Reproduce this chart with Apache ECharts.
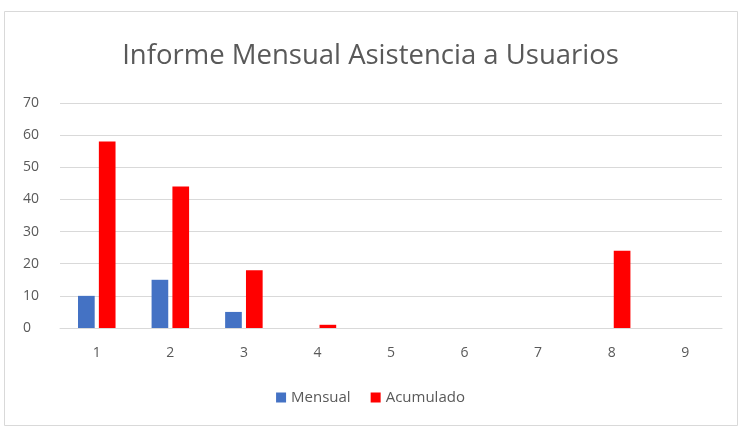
<!DOCTYPE html>
<html>
<head>
<meta charset="utf-8">
<script src="https://cdn.jsdelivr.net/npm/echarts@6/dist/echarts.min.js"></script>
<style>
  html, body { margin: 0; padding: 0; background: #fff; }
  #chart { width: 741px; height: 428px; }
</style>
</head>
<body>
<div id="chart"></div>
<script>
// datos
const categories = ['1', '2', '3', '4', '5', '6', '7', '8', '9'];
const mensual = [10, 15, 5, 0, 0, 0, 0, 0, 0];
const acumulado = [58, 44, 18, 1, 0, 0, 0, 24, 0];
const yTicks = [0, 10, 20, 30, 40, 50, 60, 70];

const chart = echarts.init(document.getElementById('chart'));

const option = {
  backgroundColor: '#fff',
  textStyle: { fontFamily: '"Open Sans", sans-serif' },
  graphic: [{
    type: 'rect',
    shape: { x: 4.5, y: 11.5, width: 733, height: 414 },
    style: { fill: 'none', stroke: '#d9d9d9', lineWidth: 1 },
    silent: true
  }],
  title: {
    text: 'Informe Mensual Asistencia a Usuarios',
    left: 'center',
    top: 37,
    textStyle: { color: '#595959', fontSize: 27.5, fontWeight: 'normal', fontFamily: '"Open Sans", sans-serif' }
  },
  legend: {
    data: ['Mensual', 'Acumulado'],
    bottom: 18,
    left: 'center',
    itemWidth: 10,
    itemHeight: 10,
    itemGap: 20,
    icon: 'rect',
    textStyle: { color: '#595959', fontSize: 15 }
  },
  grid: { left: 60, right: 19, top: 103, bottom: 100 },
  xAxis: {
    type: 'category',
    data: categories,
    axisLine: { lineStyle: { color: '#d9d9d9' } },
    axisTick: { show: false },
    axisLabel: { color: '#595959', fontSize: 14, margin: 18 }
  },
  yAxis: {
    type: 'value',
    min: yTicks[0],
    max: yTicks[yTicks.length - 1],
    interval: 10,
    axisLine: { show: false },
    axisTick: { show: false },
    axisLabel: { color: '#595959', fontSize: 14, margin: 37, align: 'left' },
    splitLine: { lineStyle: { color: '#d9d9d9' } }
  },
  series: [
    {
      name: 'Mensual',
      type: 'bar',
      data: mensual,
      itemStyle: { color: '#4472c4' },
      barGap: '25%',
      barCategoryGap: '49%'
    },
    {
      name: 'Acumulado',
      type: 'bar',
      data: acumulado,
      itemStyle: { color: '#ff0000' }
    }
  ]
};

chart.setOption(option);
</script>
</body>
</html>
